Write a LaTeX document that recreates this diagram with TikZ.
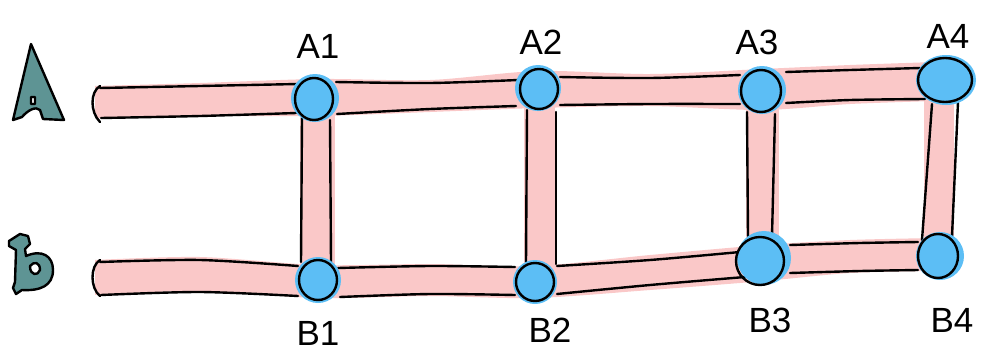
\documentclass[tikz,border=0pt]{standalone}
\usepackage{fontspec}
\setmainfont{Liberation Sans}
\usetikzlibrary{shapes.geometric}
\definecolor{bandpink}{RGB}{250,200,200}
\definecolor{jblue}{RGB}{92,190,245}
\definecolor{letterteal}{RGB}{94,148,148}
\tikzset{
  band/.style={fill=bandpink},
  ink/.style={black, line width=2.4pt, line cap=round, line join=round},
  junction/.style={circle, fill=jblue, inner sep=0pt, minimum size=#1},
  junction/.default=46pt,
  lbl/.style={font=\fontsize{35}{35}\selectfont, inner sep=0pt},
  bigletter/.style={ink, fill=letterteal, even odd rule}
}
\begin{document}
\begin{tikzpicture}[x=1pt,y=-1pt]
\useasboundingbox (0,0) rectangle (981,351);

% ---- junction positions ----
\coordinate (pA1) at (315,98);
\coordinate (pA2) at (538,88);
\coordinate (pA3) at (762,90);
\coordinate (pA4) at (946,80);
\coordinate (pB1) at (318,280);
\coordinate (pB2) at (535,282);
\coordinate (pB3) at (764,258);
\coordinate (pB4) at (940,256);

% ---- horizontal bands ----
\fill[band] plot[smooth] coordinates {(95,86) (200,83) (318,79) (430,80) (538,71) (650,74) (762,69) (850,65) (935,62)}
  -- (960,80) --
  plot[smooth] coordinates {(935,101) (850,104) (762,110) (650,106) (538,108) (430,112) (318,116) (200,116) (95,118)}
  -- cycle;
\fill[band] plot[smooth] coordinates {(95,260) (200,257) (318,265) (430,264) (535,266) (650,255) (764,245) (850,240) (935,238)}
  -- (955,255) --
  plot[smooth] coordinates {(935,271) (850,273) (764,281) (650,290) (535,298) (430,296) (318,298) (200,291) (95,295)}
  -- cycle;

% ---- vertical bands ----
\fill[band] ([xshift=-15pt]pA1) rectangle ([xshift=17pt]pB1);
\fill[band] ([xshift=-14pt]pA2) rectangle ([xshift=20pt]pB2);
\fill[band] ([xshift=-16pt]pA3) rectangle ([xshift=15pt]pB3);
\fill[band] ([xshift=-22pt]pA4) rectangle ([xshift=14pt]pB4);

% ---- band outlines ----
\draw[ink] (100,86) .. controls (90,92) and (90,112) .. (100,122);
\draw[ink] plot[smooth] coordinates {(100,88) (200,86) (298,84)};
\draw[ink] plot[smooth] coordinates {(336,82) (430,83) (518,80)};
\draw[ink] plot[smooth] coordinates {(560,77) (650,78) (740,75)};
\draw[ink] plot[smooth] coordinates {(786,72) (850,70) (920,68)};
\draw[ink] plot[smooth] coordinates {(101,118) (200,116) (296,113)};
\draw[ink] plot[smooth] coordinates {(337,114) (430,109) (516,106)};
\draw[ink] plot[smooth] coordinates {(560,105) (650,104) (740,104)};
\draw[ink] plot[smooth] coordinates {(786,103) (850,100) (925,99)};

\draw[ink] (100,260) .. controls (90,266) and (90,288) .. (100,296);
\draw[ink] plot[smooth] coordinates {(100,262) (200,260) (298,266)};
\draw[ink] plot[smooth] coordinates {(338,268) (430,266) (515,267)};
\draw[ink] plot[smooth] coordinates {(557,266) (650,260) (740,252)};
\draw[ink] plot[smooth] coordinates {(790,245) (860,243) (918,242)};
\draw[ink] plot[smooth] coordinates {(101,295) (200,292) (298,296)};
\draw[ink] plot[smooth] coordinates {(340,297) (430,294) (515,295)};
\draw[ink] plot[smooth] coordinates {(557,294) (650,285) (745,277)};
\draw[ink] plot[smooth] coordinates {(790,273) (860,271) (918,270)};

\draw[ink] (302,118) -- (301,262);
\draw[ink] (330,120) -- (331,262);
\draw[ink] (527,110) -- (526,262);
\draw[ink] (556,112) -- (556,264);
\draw[ink] (747,112) -- (748,236);
\draw[ink] (775,114) -- (772,236);
\draw[ink] (932,104) -- (922,240);
\draw[ink] (958,102) -- (952,236);

% ---- junctions ----
\node[junction=48pt] (A1) at (pA1) {};
\node[junction] (A2) at (pA2) {};
\node[junction=48pt] (A3) at (pA3) {};
\node[junction, ellipse, minimum width=60pt, minimum height=50pt] (A4) at (pA4) {};
\node[junction] (B1) at (pB1) {};
\node[junction=44pt] (B2) at (pB2) {};
\node[junction=54pt] (B3) at (pB3) {};
\node[junction=48pt] (B4) at (pB4) {};

% hand-drawn rings over the junctions
\draw[ink] ([shift={(-1,1)}]pA1) ellipse (19pt and 21pt);
\draw[ink] ([shift={(1,1)}]pA2) ellipse (19pt and 20pt);
\draw[ink] ([shift={(-1,1)}]pA3) ellipse (20pt and 21pt);
\draw[ink] ([shift={(-1,0)}]pA4) ellipse (27pt and 22pt);
\draw[ink] ([shift={(0,0)}]pB1) ellipse (19pt and 20pt);
\draw[ink] ([shift={(0,0)}]pB2) ellipse (19pt and 19pt);
\draw[ink] ([shift={(-4,3)}]pB3) ellipse (24pt and 24pt);
\draw[ink] ([shift={(-2,0)}]pB4) ellipse (20pt and 22pt);

% ---- labels ----
\node[lbl] (lA1) at (318,46) {A1};
\node[lbl] (lA2) at (541,42) {A2};
\node[lbl] (lA3) at (757,42) {A3};
\node[lbl] (lA4) at (948,36) {A4};
\node[lbl] (lB1) at (318,333) {B1};
\node[lbl] (lB2) at (550,330) {B2};
\node[lbl] (lB3) at (770,320) {B3};
\node[lbl] (lB4) at (952,320) {B4};

% ---- row letters ----
\draw[bigletter] (31,44) -- (13,120) -- (22,117) .. controls (28,110) and (36,106) .. (40,110)
  -- (43,119) -- (64,120) -- cycle
  (31,97) rectangle (35,104);
\draw[bigletter] (9,241) -- (20,234) -- (28,236) -- (30,244) -- (25,249) -- (26,256)
  .. controls (42,249) and (53,256) .. (53,270)
  .. controls (53,286) and (40,291) .. (22,290) -- (16,294) -- (13,288) -- (15,282)
  -- (16,250) -- (9,246) -- cycle
  (30,266) .. controls (34,261) and (40,262) .. (40,270) .. controls (38,276) and (30,276) .. (30,266);
\end{tikzpicture}
\end{document}
